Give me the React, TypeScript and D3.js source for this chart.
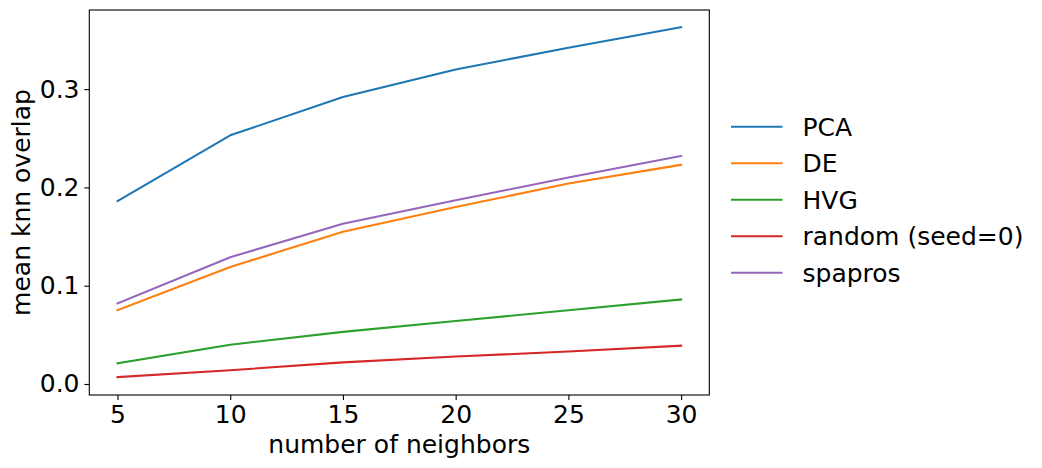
import { useEffect, useRef } from "react";
import * as d3 from "d3";

// data
const neighbors = [5, 10, 15, 20, 25, 30];
const pcaValues = [0.186, 0.253, 0.292, 0.320, 0.342, 0.363];
const deValues = [0.075, 0.119, 0.155, 0.180, 0.204, 0.223];
const hvgValues = [0.021, 0.040, 0.053, 0.064, 0.075, 0.086];
const randomValues = [0.007, 0.014, 0.022, 0.028, 0.033, 0.039];
const spaprosValues = [0.082, 0.129, 0.163, 0.187, 0.210, 0.232];
const seriesNames = ["PCA", "DE", "HVG", "random (seed=0)", "spapros"];
const seriesColors = ["#1f77b4", "#ff7f0e", "#2ca02c", "#d62728", "#9467bd"];
const xTicks = [5, 10, 15, 20, 25, 30];
const yTicks = [0.0, 0.1, 0.2, 0.3];

const W = 1042;
const H = 468;
const FONT = "DejaVu Sans, sans-serif";

export default function App() {
  const svgRef = useRef<SVGSVGElement | null>(null);

  useEffect(() => {
    if (!svgRef.current) return;
    const svg = d3.select(svgRef.current);
    svg.selectAll("*").remove();

    const left = 89.3, right = 709.3, top = 10, bottom = 395;
    const x = d3.scaleLinear().domain([3.75, 31.25]).range([left, right]);
    const y = d3.scaleLinear().domain([-0.0112, 0.3805]).range([bottom, top]);

    const allSeries = [pcaValues, deValues, hvgValues, randomValues, spaprosValues];

    const line = d3
      .line<number>()
      .x((_d, i) => x(neighbors[i]))
      .y(d => y(d));

    allSeries.forEach((vals, i) => {
      svg
        .append("path")
        .datum(vals)
        .attr("d", line)
        .attr("fill", "none")
        .attr("stroke", seriesColors[i])
        .attr("stroke-width", 2.08)
        .attr("stroke-linejoin", "round")
        .attr("stroke-linecap", "square");
    });

    // frame
    svg
      .append("rect")
      .attr("x", left)
      .attr("y", top)
      .attr("width", right - left)
      .attr("height", bottom - top)
      .attr("fill", "none")
      .attr("stroke", "#000")
      .attr("stroke-width", 1.1);

    // x axis
    const xAxis = svg
      .append("g")
      .attr("transform", `translate(0,${bottom})`)
      .call(d3.axisBottom(x).tickValues(xTicks).tickSize(4.9).tickPadding(4.9).tickFormat(d3.format("d")));
    xAxis.select(".domain").remove();

    // y axis
    const yAxis = svg
      .append("g")
      .attr("transform", `translate(${left},0)`)
      .call(d3.axisLeft(y).tickValues(yTicks).tickSize(4.9).tickPadding(4.9).tickFormat(d3.format(".1f")));
    yAxis.select(".domain").remove();

    svg
      .selectAll(".tick line")
      .attr("stroke", "#000")
      .attr("stroke-width", 1.1);
    svg
      .selectAll(".tick text")
      .attr("fill", "#000")
      .style("font-family", FONT)
      .style("font-size", "25px");

    // axis labels
    svg
      .append("text")
      .attr("x", (left + right) / 2)
      .attr("y", 452.5)
      .attr("text-anchor", "middle")
      .style("font-family", FONT)
      .style("font-size", "25px")
      .text("number of neighbors");

    svg
      .append("text")
      .attr("transform", `translate(29.5,${(top + bottom) / 2}) rotate(-90)`)
      .attr("text-anchor", "middle")
      .style("font-family", FONT)
      .style("font-size", "25px")
      .text("mean knn overlap");

    // legend
    const legend = svg.append("g");
    seriesNames.forEach((name, i) => {
      const cy = 126.7 + i * 36.5;
      legend
        .append("line")
        .attr("x1", 731)
        .attr("x2", 782.5)
        .attr("y1", cy)
        .attr("y2", cy)
        .attr("stroke", seriesColors[i])
        .attr("stroke-width", 2.08);
      legend
        .append("text")
        .attr("x", 802.5)
        .attr("y", cy + 9)
        .style("font-family", FONT)
        .style("font-size", "25px")
        .text(name);
    });
  }, []);

  return (
    <svg
      ref={svgRef}
      width={W}
      height={H}
      style={{ position: "absolute", left: 0, top: 0, background: "#fff" }}
    />
  );
}
